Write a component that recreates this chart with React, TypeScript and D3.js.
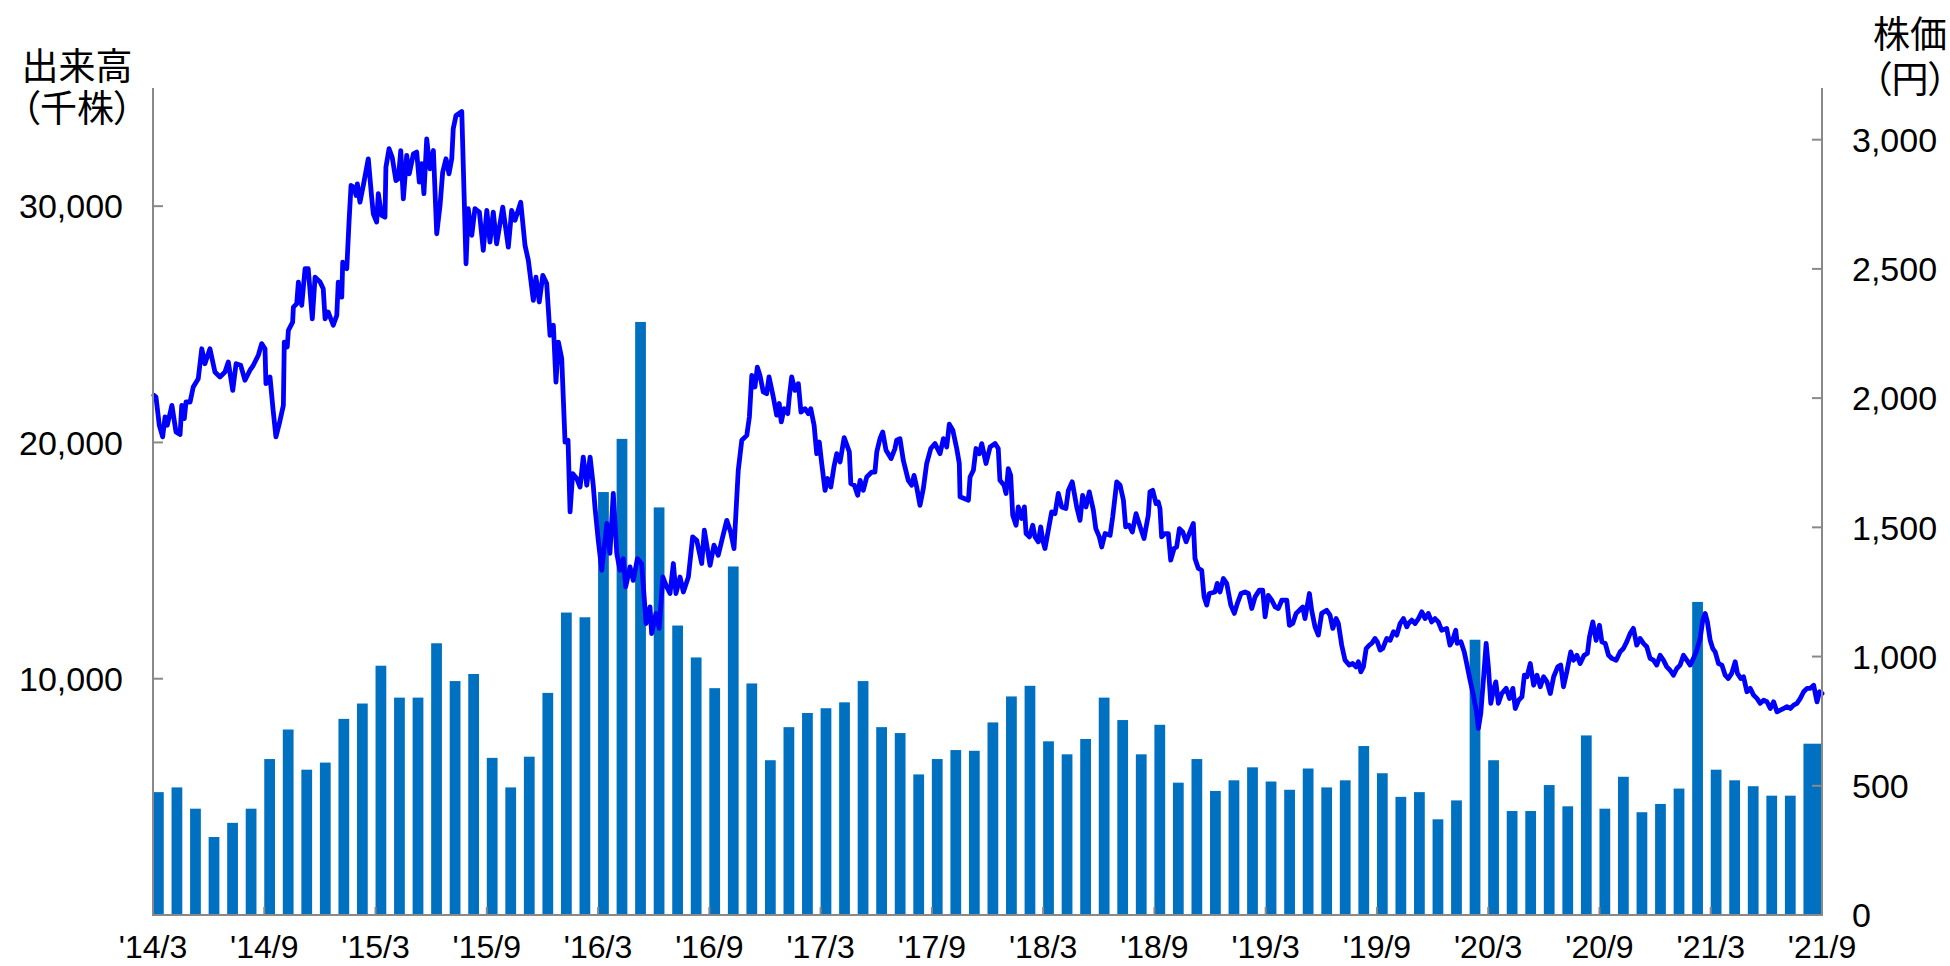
import * as d3 from "d3"

// 月次出来高（千株）: '14/3 〜 '21/8
const volume = [
    5200, 5400, 4500, 3300, 3900, 4500, 6600, 7850, 6150, 6450,
    8300, 8950, 10550, 9200, 9200, 11500, 9900, 10200, 6650, 5400,
    6700, 9400, 12800, 12600, 17900, 20150, 25100, 17250, 12250, 10900,
    9600, 14750, 9800, 6550, 7950, 8550, 8750, 9000, 9900, 7950,
    7700, 5950, 6600, 6980, 6950, 8150, 9250, 9700, 7350, 6800,
    7450, 9200, 8250, 6800, 8050, 5600, 6600, 5250, 5700, 6250,
    5650, 5300, 6200, 5400, 5700, 7150, 6000, 5000, 5200, 4050,
    4850, 11650, 6550, 4400, 4400, 5500, 4600, 7600, 4500, 5850,
    4350, 4700, 5350, 13250, 6150, 5700, 5450, 5050, 5050, 7250,
]

// 株価（円）: [months since '14/3, price]
const priceTrace: [number, number][] = [
    [0.05, 2011], [0.16, 2004], [0.34, 1895], [0.52, 1850], [0.65, 1927], [0.77, 1895], [1.02, 1972], [1.24, 1869],
    [1.46, 1859], [1.55, 1972], [1.69, 1921], [1.78, 1985], [2.0, 1985], [2.17, 2043], [2.44, 2075], [2.63, 2191],
    [2.8, 2133], [3.07, 2191], [3.34, 2101], [3.61, 2082], [3.88, 2101], [4.06, 2140], [4.3, 2030], [4.48, 2133],
    [4.73, 2127], [4.96, 2069], [5.23, 2108], [5.41, 2127], [5.68, 2166], [5.86, 2211], [6.04, 2191], [6.09, 2056],
    [6.31, 2082], [6.46, 1966], [6.63, 1850], [6.81, 1901], [7.03, 1972], [7.08, 2217], [7.24, 2198], [7.3, 2262],
    [7.53, 2294], [7.57, 2352], [7.75, 2365], [7.84, 2449], [8.02, 2359], [8.2, 2501], [8.37, 2501], [8.59, 2307],
    [8.74, 2468], [9.01, 2449], [9.18, 2423], [9.28, 2307], [9.45, 2333], [9.72, 2282], [9.91, 2320], [9.99, 2449],
    [10.18, 2391], [10.23, 2526], [10.45, 2501], [10.57, 2681], [10.68, 2823], [10.84, 2816], [10.95, 2784], [11.02, 2829],
    [11.16, 2758], [11.34, 2823], [11.61, 2926], [11.79, 2778], [11.88, 2713], [12.06, 2681], [12.15, 2791], [12.33, 2707],
    [12.51, 2700], [12.56, 2894], [12.73, 2965], [12.9, 2932], [13.1, 2842], [13.23, 2849], [13.36, 2958], [13.5, 2771],
    [13.68, 2939], [13.82, 2868], [14.04, 2945], [14.22, 2952], [14.36, 2836], [14.49, 2907], [14.61, 2791], [14.76, 3003],
    [14.94, 2887], [15.12, 2958], [15.3, 2636], [15.48, 2746], [15.62, 2874], [15.8, 2926], [15.96, 2868], [16.11, 2926],
    [16.19, 3042], [16.34, 3094], [16.65, 3109], [16.88, 2520], [17.0, 2733], [17.19, 2630], [17.36, 2733], [17.6, 2720],
    [17.81, 2572], [18.0, 2726], [18.17, 2604], [18.35, 2720], [18.53, 2597], [18.86, 2739], [19.16, 2584], [19.34, 2726],
    [19.52, 2688], [19.83, 2758], [20.06, 2591], [20.24, 2533], [20.51, 2378], [20.65, 2468], [20.83, 2372], [21.02, 2475],
    [21.23, 2443], [21.41, 2243], [21.59, 2282], [21.73, 2062], [21.86, 2217], [22.04, 2153], [22.22, 1830], [22.38, 1837],
    [22.49, 1560], [22.63, 1708], [22.85, 1689], [23.03, 1656], [23.2, 1772], [23.39, 1663], [23.57, 1772], [23.74, 1663],
    [23.84, 1573], [24.01, 1450], [24.2, 1334], [24.47, 1515], [24.64, 1399], [24.82, 1631], [25.01, 1399], [25.18, 1334],
    [25.36, 1379], [25.49, 1270], [25.72, 1347], [25.9, 1295], [26.12, 1379], [26.35, 1360], [26.59, 1128], [26.8, 1192],
    [26.89, 1089], [27.12, 1167], [27.3, 1109], [27.49, 1308], [27.7, 1270], [27.88, 1244], [28.06, 1360], [28.2, 1244],
    [28.42, 1308], [28.6, 1250], [28.87, 1308], [29.1, 1463], [29.32, 1450], [29.59, 1360], [29.73, 1489], [30.04, 1353],
    [30.25, 1431], [30.48, 1392], [30.72, 1463], [30.94, 1527], [31.15, 1482], [31.33, 1418], [31.56, 1721], [31.75, 1837],
    [32.02, 1856], [32.16, 1927], [32.29, 2088], [32.46, 2043], [32.59, 2120], [32.73, 2088], [32.91, 2024], [33.09, 2017],
    [33.22, 2082], [33.45, 2004], [33.63, 1934], [33.77, 1979], [33.88, 1908], [34.03, 1959], [34.23, 1940], [34.31, 2004],
    [34.44, 2082], [34.62, 2030], [34.8, 2056], [34.94, 1946], [35.16, 1959], [35.34, 1940], [35.47, 1959], [35.65, 1895],
    [35.79, 1785], [35.93, 1830], [36.06, 1747], [36.24, 1643], [36.38, 1689], [36.55, 1656], [36.72, 1734], [36.87, 1785],
    [37.05, 1753], [37.27, 1847], [37.55, 1792], [37.63, 1669], [37.82, 1663], [38.0, 1624], [38.13, 1682], [38.3, 1643],
    [38.49, 1695], [38.76, 1714], [38.93, 1714], [39.03, 1792], [39.2, 1843], [39.35, 1869], [39.53, 1798], [39.8, 1766],
    [40.01, 1805], [40.1, 1837], [40.28, 1843], [40.46, 1759], [40.73, 1682], [40.91, 1663], [41.04, 1701], [41.18, 1656],
    [41.36, 1585], [41.54, 1650], [41.72, 1747], [41.94, 1805], [42.17, 1824], [42.44, 1785], [42.62, 1843], [42.8, 1811],
    [42.94, 1899], [43.13, 1876], [43.34, 1805], [43.48, 1747], [43.52, 1618], [43.97, 1605], [44.06, 1695], [44.24, 1721],
    [44.38, 1805], [44.56, 1785], [44.69, 1824], [44.92, 1747], [45.14, 1811], [45.41, 1824], [45.58, 1805], [45.67, 1682],
    [45.89, 1663], [46.0, 1631], [46.12, 1727], [46.25, 1701], [46.36, 1547], [46.54, 1508], [46.66, 1579], [46.84, 1534],
    [46.99, 1579], [47.08, 1476], [47.26, 1463], [47.44, 1508], [47.56, 1463], [47.74, 1444], [47.87, 1502], [47.98, 1450],
    [48.1, 1418], [48.28, 1489], [48.46, 1560], [48.64, 1553], [48.82, 1631], [49.0, 1579], [49.23, 1573], [49.36, 1643],
    [49.57, 1676], [49.81, 1579], [49.99, 1527], [50.13, 1624], [50.31, 1579], [50.49, 1637], [50.71, 1566], [50.84, 1495],
    [51.03, 1463], [51.16, 1424], [51.34, 1476], [51.61, 1469], [51.75, 1540], [51.97, 1676], [52.15, 1663], [52.33, 1605],
    [52.45, 1502], [52.63, 1508], [52.81, 1482], [53.01, 1553], [53.23, 1502], [53.44, 1457], [53.67, 1547], [53.76, 1637],
    [53.91, 1643], [54.09, 1592], [54.21, 1598], [54.3, 1573], [54.39, 1463], [54.57, 1476], [54.75, 1476], [54.88, 1373],
    [55.06, 1418], [55.2, 1424], [55.35, 1495], [55.53, 1482], [55.71, 1444], [55.88, 1476], [56.1, 1515], [56.19, 1379],
    [56.37, 1341], [56.55, 1334], [56.68, 1231], [56.82, 1199], [56.96, 1244], [57.27, 1250], [57.39, 1283], [57.54, 1250],
    [57.72, 1302], [57.9, 1283], [58.12, 1199], [58.31, 1167], [58.47, 1205], [58.67, 1244], [58.89, 1250], [59.07, 1244],
    [59.25, 1186], [59.43, 1231], [59.66, 1257], [59.84, 1257], [59.97, 1154], [60.14, 1237], [60.33, 1218], [60.51, 1192],
    [60.68, 1186], [60.87, 1218], [61.14, 1218], [61.28, 1121], [61.46, 1128], [61.64, 1167], [61.82, 1179], [62.0, 1192],
    [62.12, 1147], [62.36, 1244], [62.48, 1179], [62.66, 1115], [62.84, 1083], [63.02, 1167], [63.29, 1179], [63.47, 1160],
    [63.62, 1109], [63.8, 1147], [63.92, 1128], [64.1, 1044], [64.28, 986], [64.51, 967], [64.69, 973], [64.87, 960],
    [65.0, 980], [65.13, 941], [65.27, 960], [65.42, 1031], [65.59, 1044], [65.72, 1051], [65.9, 1070], [66.02, 1057],
    [66.17, 1025], [66.31, 1031], [66.53, 1070], [66.71, 1063], [66.89, 1096], [67.07, 1083], [67.25, 1128], [67.43, 1147],
    [67.61, 1115], [67.7, 1128], [67.88, 1141], [68.06, 1128], [68.24, 1147], [68.42, 1173], [68.6, 1147], [68.77, 1167],
    [68.95, 1134], [69.13, 1147], [69.31, 1134], [69.49, 1102], [69.76, 1109], [69.94, 1044], [70.08, 1063], [70.25, 1102],
    [70.33, 1051], [70.53, 1057], [70.71, 1018], [70.84, 973], [71.02, 909], [71.2, 851], [71.38, 780], [71.47, 722],
    [71.6, 780], [71.74, 909], [71.89, 1051], [72.01, 960], [72.14, 819], [72.28, 870], [72.41, 902], [72.55, 819],
    [72.73, 857], [72.97, 877], [73.15, 838], [73.33, 877], [73.46, 799], [73.64, 831], [73.82, 844], [73.95, 928],
    [74.09, 922], [74.27, 973], [74.45, 889], [74.63, 928], [74.81, 883], [74.99, 922], [75.17, 902], [75.35, 857],
    [75.53, 922], [75.75, 960], [75.91, 967], [76.06, 883], [76.24, 941], [76.45, 1018], [76.6, 986], [76.78, 1005],
    [76.96, 973], [77.17, 1005], [77.35, 1012], [77.46, 1076], [77.64, 1134], [77.82, 1063], [78.0, 1121], [78.13, 1057],
    [78.31, 1051], [78.49, 1005], [78.67, 993], [78.9, 986], [79.11, 1018], [79.29, 1031], [79.47, 1057], [79.65, 1089],
    [79.83, 1109], [80.01, 1044], [80.19, 1070], [80.37, 1051], [80.55, 1038], [80.73, 993], [80.91, 986], [81.09, 967],
    [81.27, 1005], [81.45, 986], [81.63, 960], [81.81, 947], [81.99, 928], [82.17, 954], [82.35, 967], [82.53, 1005],
    [82.71, 986], [82.89, 967], [83.07, 993], [83.25, 1025], [83.43, 1070], [83.57, 1141], [83.7, 1167], [83.82, 1134],
    [83.97, 1063], [84.11, 1031], [84.24, 1018], [84.42, 973], [84.6, 967], [84.78, 928], [84.95, 915], [85.13, 935],
    [85.32, 980], [85.44, 935], [85.62, 915], [85.77, 922], [85.95, 864], [86.13, 877], [86.31, 851], [86.49, 838],
    [86.67, 819], [86.85, 831], [87.03, 825], [87.21, 799], [87.39, 825], [87.57, 786], [87.75, 793], [87.93, 799],
    [88.11, 806], [88.29, 799], [88.47, 812], [88.65, 819], [88.83, 838], [89.01, 864], [89.19, 877], [89.37, 877],
    [89.55, 889], [89.73, 825], [89.87, 864], [90.0, 857],
]

const xTickLabels = [
    "'14/3", "'14/9", "'15/3", "'15/9", "'16/3", "'16/9", "'17/3", "'17/9",
    "'18/3", "'18/9", "'19/3", "'19/9", "'20/3", "'20/9", "'21/3", "'21/9",
]
const volumeTicks = [10000, 20000, 30000]
const priceTicks = [0, 500, 1000, 1500, 2000, 2500, 3000]

const WIDTH = 1950
const HEIGHT = 966
const margin = { top: 88, right: 128, bottom: 51, left: 153 }
const AXIS = "#898989"
const NUM_FONT = "'Liberation Sans', Arial, sans-serif"
const JP_FONT = "'Noto Sans CJK JP', sans-serif"

export default function App() {
    const innerBottom = HEIGHT - margin.bottom
    const innerRight = WIDTH - margin.right

    const x = d3.scaleLinear()
        .domain([0, (xTickLabels.length - 1) * 6])
        .range([margin.left, innerRight])
    const yVol = d3.scaleLinear().domain([0, 35000]).range([innerBottom, margin.top])
    const yPrice = d3.scaleLinear().domain([0, 3200]).range([innerBottom, margin.top])

    const barFrac = 0.58
    const line = d3.line<[number, number]>()
        .x(d => x(d[0]))
        .y(d => yPrice(d[1]))

    // proportional punctuation so the full-width brackets stay narrow
    const palt = { fontFeatureSettings: '"palt" 1' }

    return (
        <svg
            width={WIDTH}
            height={HEIGHT}
            style={{ position: "absolute", left: 0, top: 0, display: "block", background: "#fff" }}
        >
            {/* bars */}
            <g fill="#0070C0">
                {volume.map((v, i) => {
                    const last = i === volume.length - 1
                    const w = last ? x(i + 1) - x(i) : x(i + barFrac) - x(i)
                    return <rect key={i} x={x(i)} y={yVol(v)} width={w} height={yVol(0) - yVol(v)} />
                })}
            </g>

            {/* price line */}
            <path
                d={line(priceTrace) ?? ""}
                fill="none"
                stroke="#0000FF"
                strokeWidth={4.8}
                strokeLinejoin="round"
                strokeLinecap="round"
            />

            {/* axes */}
            <g stroke={AXIS} strokeWidth={2} fill="none">
                <line x1={margin.left} x2={margin.left} y1={margin.top} y2={innerBottom + 1} />
                <line x1={innerRight} x2={innerRight} y1={margin.top} y2={innerBottom + 1} />
                <line x1={margin.left} x2={innerRight} y1={innerBottom} y2={innerBottom} />
                {volumeTicks.map(t => (
                    <line key={t} x1={margin.left} x2={margin.left + 10} y1={yVol(t)} y2={yVol(t)} />
                ))}
                {priceTicks.map(t => (
                    <line key={t} x1={innerRight - 10} x2={innerRight} y1={yPrice(t)} y2={yPrice(t)} />
                ))}
                {xTickLabels.map((_, i) => (
                    <line key={i} x1={x(i * 6)} x2={x(i * 6)} y1={innerBottom - 8} y2={innerBottom} />
                ))}
            </g>

            {/* tick labels */}
            <g fontFamily={NUM_FONT} fill="#000">
                {volumeTicks.map(t => (
                    <text key={t} x={123} y={yVol(t)} dy="0.36em" fontSize={34} textAnchor="end">
                        {d3.format(",")(t)}
                    </text>
                ))}
                {priceTicks.map(t => (
                    <text key={t} x={innerRight + 30} y={yPrice(t)} dy="0.36em" fontSize={34} textAnchor="start">
                        {d3.format(",")(t)}
                    </text>
                ))}
                {xTickLabels.map((label, i) => (
                    <text key={label} x={x(i * 6)} y={958} fontSize={32} textAnchor="middle">
                        {label}
                    </text>
                ))}
            </g>

            {/* axis titles */}
            <g fontFamily={JP_FONT} fontSize={37} fill="#000" textAnchor="middle">
                <text x={77} y={80}>
                    <tspan x={77}>出来高</tspan>
                    <tspan x={77} dy={42} style={palt}>（千株）</tspan>
                </text>
                <text x={1910} y={48}>
                    <tspan x={1910}>株価</tspan>
                    <tspan x={1910} dy={45} style={palt}>（円）</tspan>
                </text>
            </g>
        </svg>
    )
}
